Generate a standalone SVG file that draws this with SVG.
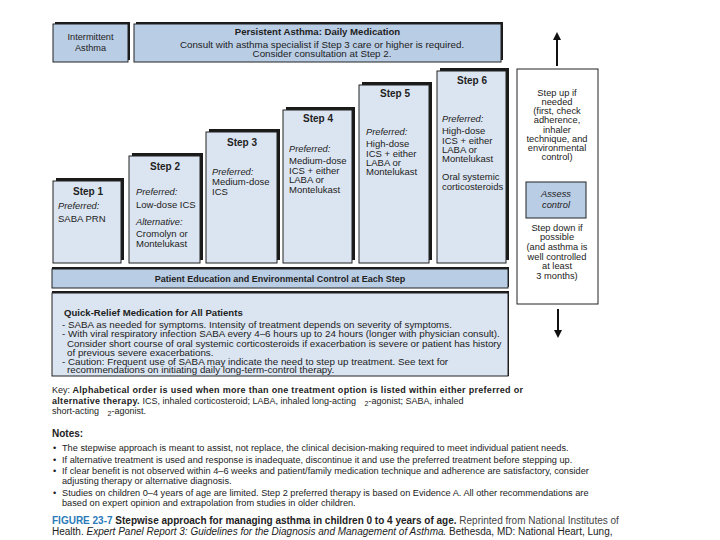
<svg xmlns="http://www.w3.org/2000/svg" width="720" height="540" viewBox="0 0 720 540">
<style>
text{font-family:"Liberation Sans",Arial,sans-serif;fill:#222}
.box{fill:#dbe5f1;stroke:#222;stroke-width:1}
.dbox{fill:#b9cde5;stroke:#222;stroke-width:1}
.sh{fill:#1a1a1a}
.h{font-weight:bold;font-size:10px;text-anchor:middle}
.c{font-size:9.5px}
.i{font-size:9.3px;font-style:italic}
.r{font-size:9.3px;text-anchor:middle}
.q{font-size:9.8px}
.k{font-size:9px}
.kb{font-weight:bold;letter-spacing:0.3px}
.n{font-size:9.2px}
.ln{stroke:#111;stroke-width:2;fill:none}
</style>
<rect width="720" height="540" fill="#fff"/>

<g id="intermittent">
<rect class="sh" x="55" y="22" width="75" height="38"/>
<rect class="dbox" x="53" y="24" width="75" height="38" stroke-width="1.5"/>
<text x="90.5" y="40" text-anchor="middle" font-size="9.2">Intermittent</text>
<text x="90.5" y="51" text-anchor="middle" font-size="9.2">Asthma</text>
</g>
<g id="persistent">
<rect class="sh" x="136" y="22" width="367" height="38"/>
<rect class="dbox" x="134" y="24" width="367" height="38" stroke-width="1.5"/>
<text x="317.5" y="35" text-anchor="middle" font-size="9.6" font-weight="bold">Persistent Asthma: Daily Medication</text>
<text x="322" y="47.5" text-anchor="middle" font-size="9.8">Consult with asthma specialist if Step 3 care or higher is required.</text>
<text x="322" y="57" text-anchor="middle" font-size="9.8">Consider consultation at Step 2.</text>
</g>

<g id="step1">
<rect class="sh" x="56" y="178" width="68" height="82"/>
<rect class="box" x="53" y="181" width="68" height="82"/>
<text class="h" x="88" y="195">Step 1</text>
<text class="i" x="58" y="209">Preferred:</text>
<text class="c" x="58" y="222">SABA PRN</text>
</g>
<g id="step2">
<rect class="sh" x="132" y="153" width="71" height="107"/>
<rect class="box" x="129" y="156" width="71" height="107"/>
<text class="h" x="165" y="170">Step 2</text>
<text class="i" x="136" y="195">Preferred:</text>
<text class="c" x="136" y="208">Low-dose ICS</text>
<text class="i" x="136" y="225">Alternative:</text>
<text class="c" x="136" y="237">Cromolyn or</text>
<text class="c" x="136" y="246.5">Montelukast</text>
</g>
<g id="step3">
<rect class="sh" x="209" y="129" width="71" height="131"/>
<rect class="box" x="206" y="132" width="71" height="131"/>
<text class="h" x="242" y="146">Step 3</text>
<text class="i" x="212" y="175">Preferred:</text>
<text class="c" x="212" y="185">Medium-dose</text>
<text class="c" x="212" y="194.5">ICS</text>
</g>
<g id="step4">
<rect class="sh" x="286" y="107" width="69" height="153"/>
<rect class="box" x="283" y="110" width="69" height="153"/>
<text class="h" x="318" y="122">Step 4</text>
<text class="i" x="289" y="152">Preferred:</text>
<text class="c" x="289" y="164">Medium-dose</text>
<text class="c" x="289" y="173.5">ICS + either</text>
<text class="c" x="289" y="183">LABA or</text>
<text class="c" x="289" y="193">Montelukast</text>
</g>
<g id="step5">
<rect class="sh" x="362" y="82" width="70" height="178"/>
<rect class="box" x="359" y="85" width="70" height="178"/>
<text class="h" x="395" y="97">Step 5</text>
<text class="i" x="366" y="135">Preferred:</text>
<text class="c" x="366" y="147">High-dose</text>
<text class="c" x="366" y="156.5">ICS + either</text>
<text class="c" x="366" y="166">LABA or</text>
<text class="c" x="366" y="175">Montelukast</text>
</g>
<g id="step6">
<rect class="sh" x="440" y="68" width="69" height="192"/>
<rect class="box" x="437" y="71" width="69" height="192"/>
<text class="h" x="472" y="84">Step 6</text>
<text class="i" x="442" y="122">Preferred:</text>
<text class="c" x="442" y="134">High-dose</text>
<text class="c" x="442" y="143.5">ICS + either</text>
<text class="c" x="442" y="153">LABA or</text>
<text class="c" x="442" y="162">Montelukast</text>
<text class="c" x="442" y="180">Oral systemic</text>
<text class="c" x="442" y="190">corticosteroids</text>
</g>

<g id="education">
<rect class="sh" x="52" y="267" width="457" height="20"/>
<rect class="dbox" x="52" y="269" width="456" height="19"/>
<text x="280" y="282" text-anchor="middle" font-size="9" font-weight="bold">Patient Education and Environmental Control at Each Step</text>
</g>

<g id="quickrelief">
<rect class="sh" x="52" y="291" width="457" height="85"/>
<rect class="box" x="52" y="293" width="456" height="83"/>
<text x="64" y="316" font-size="9.6" font-weight="bold">Quick-Relief Medication for All Patients</text>
<text class="q" x="62" y="328">- SABA as needed for symptoms. Intensity of treatment depends on severity of symptoms.</text>
<text class="q" x="62" y="337">- With viral respiratory infection SABA every 4–6 hours up to 24 hours (longer with physician consult).</text>
<text class="q" x="67" y="347">Consider short course of oral systemic corticosteroids if exacerbation is severe or patient has history</text>
<text class="q" x="67" y="356">of previous severe exacerbations.</text>
<text class="q" x="62" y="365">- Caution: Frequent use of SABA may indicate the need to step up treatment. See text for</text>
<text class="q" x="67" y="373">recommendations on initiating daily long-term-control therapy.</text>
</g>

<g id="assess-column">
<rect x="517" y="69" width="81" height="235" fill="#fff" stroke="#222" stroke-width="1"/>
<text class="r" x="557" y="96">Step up if</text>
<text class="r" x="557" y="105">needed</text>
<text class="r" x="557" y="114">(first, check</text>
<text class="r" x="557" y="123">adherence,</text>
<text class="r" x="557" y="133">inhaler</text>
<text class="r" x="557" y="142">technique, and</text>
<text class="r" x="557" y="151">environmental</text>
<text class="r" x="557" y="160">control)</text>
<text class="r" x="557" y="231">Step down if</text>
<text class="r" x="557" y="240">possible</text>
<text class="r" x="557" y="250">(and asthma is</text>
<text class="r" x="557" y="260">well controlled</text>
<text class="r" x="557" y="269">at least</text>
<text class="r" x="557" y="279">3 months)</text>
</g>
<g id="assess">
<rect class="dbox" x="526" y="182" width="60" height="36" stroke="#333"/>
<text class="r" x="556" y="197" font-style="italic">Assess</text>
<text class="r" x="556" y="208" font-style="italic">control</text>
</g>

<g id="connectors">
<line class="ln" x1="557" y1="66" x2="557" y2="36"/>
<path d="M553,40 L557,32 L561,40 Z" fill="#111"/>
<line class="ln" x1="558" y1="309" x2="558" y2="333"/>
<path d="M554,330 L558,338 L562,330 Z" fill="#111"/>
</g>

<g id="key">
<text class="k" x="52" y="393">Key: <tspan class="kb">Alphabetical order is used when more than one treatment option is listed within either preferred or</tspan></text>
<text class="k" x="52" y="404"><tspan class="kb">alternative therapy.</tspan> ICS, inhaled corticosteroid; LABA, inhaled long-acting <tspan font-size="7" dx="6" dy="2">2</tspan><tspan dy="-2">-agonist; SABA, inhaled</tspan></text>
<text class="k" x="52" y="414">short-acting <tspan font-size="7" dx="6" dy="2">2</tspan><tspan dy="-2">-agonist.</tspan></text>
</g>

<g id="notes">
<text x="52" y="437" font-size="10" font-weight="bold">Notes:</text>
<text class="n" x="53" y="451">•</text>
<text class="n" x="62" y="451">The stepwise approach is meant to assist, not replace, the clinical decision-making required to meet individual patient needs.</text>
<text class="n" x="53" y="463">•</text>
<text class="n" x="62" y="463">If alternative treatment is used and response is inadequate, discontinue it and use the preferred treatment before stepping up.</text>
<text class="n" x="53" y="474">•</text>
<text class="n" x="62" y="474">If clear benefit is not observed within 4–6 weeks and patient/family medication technique and adherence are satisfactory, consider</text>
<text class="n" x="62" y="484">adjusting therapy or alternative diagnosis.</text>
<text class="n" x="53" y="496">•</text>
<text class="n" x="62" y="496">Studies on children 0–4 years of age are limited.  Step 2 preferred therapy is based on Evidence A.  All other recommendations are</text>
<text class="n" x="62" y="506">based on expert opinion and extrapolation from studies in older children.</text>
<text x="52" y="524" font-size="10"><tspan font-weight="bold" fill="#2a7ab8">FIGURE 23-7</tspan><tspan font-weight="bold"> Stepwise approach for managing asthma in children 0 to 4 years of age.</tspan><tspan fill="#444">  Reprinted from National Institutes of</tspan></text>
<text x="52" y="535" font-size="10" fill="#444">Health. <tspan font-style="italic">Expert Panel Report 3: Guidelines for the Diagnosis and Management of Asthma.</tspan> Bethesda, MD: National Heart, Lung,</text>
</g>
</svg>
